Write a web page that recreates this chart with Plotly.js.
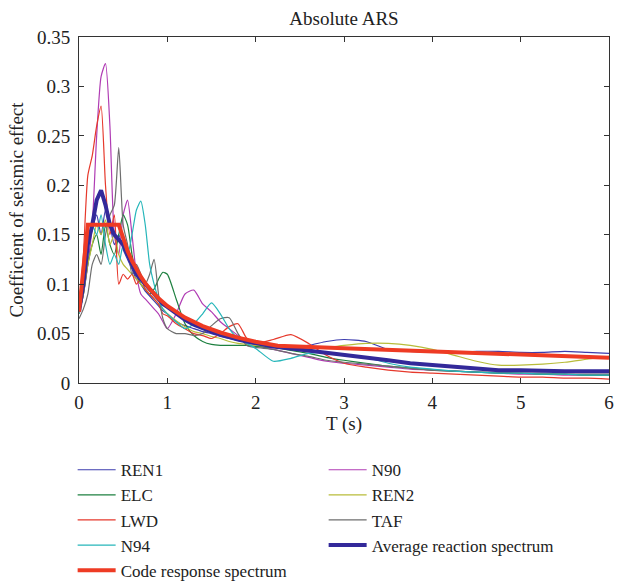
<!DOCTYPE html>
<html>
<head>
<meta charset="utf-8">
<script src="https://cdn.plot.ly/plotly-3.0.1.min.js"></script>
<style>html,body{margin:0;padding:0;background:#fff;}#chart{width:622px;height:586px;}</style>
</head>
<body>
<div id="chart"></div>
<script>
// Periods (s)
const periods = [0,0.05,0.1,0.15,0.2,0.25,0.3,0.35,0.4,0.45,0.5,0.55,0.6,0.65,0.7,0.75,0.8,0.85,0.9,0.95,1.0,
  1.1,1.2,1.3,1.4,1.5,1.6,1.7,1.8,1.9,2.0,2.2,2.4,2.6,2.8,3.0,3.25,3.5,3.75,4.0,4.25,4.5,4.75,5.0,5.25,5.5,5.75,6.0];

const REN1 = [0.072,0.10,0.14,0.155,0.17,0.15,0.175,0.16,0.14,0.15,0.135,0.125,0.115,0.105,0.10,0.093,0.088,0.083,0.078,0.073,0.07,
  0.062,0.058,0.055,0.052,0.05,0.047,0.045,0.043,0.041,0.04,0.038,0.037,0.038,0.042,0.044,0.042,0.034,0.032,0.031,0.031,0.032,0.032,0.031,0.031,0.032,0.031,0.030];
const N90 = [0.07,0.09,0.12,0.16,0.25,0.31,0.323,0.26,0.15,0.13,0.17,0.185,0.15,0.11,0.09,0.085,0.08,0.075,0.07,0.062,0.055,
  0.07,0.09,0.094,0.08,0.072,0.062,0.055,0.048,0.042,0.038,0.034,0.03,0.026,0.022,0.02,0.018,0.016,0.014,0.013,0.012,0.011,0.01,0.009,0.009,0.008,0.008,0.008];
const ELC = [0.07,0.09,0.12,0.14,0.15,0.13,0.16,0.14,0.13,0.15,0.17,0.16,0.13,0.11,0.10,0.095,0.09,0.095,0.105,0.112,0.11,
  0.085,0.06,0.048,0.042,0.039,0.038,0.038,0.038,0.038,0.037,0.036,0.033,0.03,0.026,0.023,0.02,0.017,0.015,0.013,0.012,0.011,0.01,0.01,0.009,0.009,0.008,0.008];
const REN2 = [0.07,0.09,0.12,0.14,0.16,0.15,0.165,0.14,0.15,0.13,0.12,0.115,0.11,0.105,0.10,0.095,0.09,0.085,0.08,0.075,0.07,
  0.063,0.057,0.052,0.05,0.047,0.045,0.042,0.04,0.039,0.038,0.037,0.036,0.035,0.036,0.038,0.040,0.040,0.038,0.034,0.028,0.022,0.018,0.018,0.019,0.021,0.024,0.027];
const LWD = [0.07,0.13,0.21,0.23,0.26,0.28,0.20,0.15,0.17,0.10,0.11,0.105,0.11,0.10,0.105,0.095,0.09,0.085,0.08,0.07,0.068,
  0.06,0.055,0.05,0.048,0.045,0.05,0.057,0.06,0.045,0.04,0.044,0.049,0.04,0.028,0.02,0.016,0.013,0.011,0.01,0.009,0.008,0.007,0.006,0.006,0.005,0.005,0.004];
const TAF = [0.065,0.075,0.09,0.12,0.13,0.12,0.15,0.17,0.18,0.238,0.16,0.14,0.11,0.12,0.11,0.10,0.11,0.125,0.09,0.065,0.055,
  0.05,0.05,0.048,0.05,0.058,0.065,0.066,0.05,0.038,0.036,0.034,0.03,0.027,0.023,0.021,0.019,0.017,0.015,0.013,0.012,0.011,0.011,0.01,0.01,0.009,0.009,0.009];
const N94 = [0.07,0.10,0.14,0.16,0.15,0.17,0.14,0.12,0.13,0.12,0.14,0.13,0.15,0.175,0.184,0.16,0.12,0.10,0.085,0.075,0.07,
  0.062,0.055,0.06,0.07,0.081,0.07,0.055,0.045,0.04,0.035,0.022,0.025,0.03,0.031,0.029,0.026,0.02,0.016,0.014,0.012,0.011,0.01,0.01,0.009,0.009,0.008,0.008];
const AVG = [0.072,0.10,0.14,0.16,0.185,0.195,0.18,0.16,0.15,0.145,0.14,0.13,0.12,0.11,0.105,0.10,0.095,0.09,0.085,0.08,0.077,
  0.07,0.064,0.059,0.055,0.052,0.049,0.046,0.044,0.042,0.04,0.037,0.035,0.033,0.031,0.029,0.026,0.023,0.02,0.018,0.016,0.014,0.013,0.013,0.012,0.012,0.012,0.012];

const codePeriods = [0,0.1,0.45,0.5,0.55,0.6,0.65,0.7,0.75,0.8,0.9,1.0,1.2,1.4,1.6,1.8,2.0,2.25,3,4,5,6];
const CODE = [0.072,0.16,0.16,0.1455,0.1336,0.1235,0.1149,0.1075,0.101,0.0953,0.0857,0.078,0.0662,0.0576,0.0511,0.0459,0.0418,0.0376,0.0352,0.032,0.0288,0.0256];

const names = ['REN1','N90','ELC','REN2','LWD','TAF','N94','Average reaction spectrum','Code response spectrum'];
const series = [REN1,N90,ELC,REN2,LWD,TAF,N94,AVG,CODE];
const colors = ['#3c3cae','#b03cb4','#1e8040','#b8bc3a','#e6392c','#6e6e6e','#26b6ba','#33299a','#ee3b24'];
const widths = [1.2,1.2,1.2,1.2,1.2,1.2,1.2,4,4];

const traces = series.map((ys, i) => ({
  type: 'scatter', mode: 'lines',
  x: i === 8 ? codePeriods : periods,
  y: ys, name: names[i],
  line: {color: colors[i], width: widths[i], shape: i >= 7 ? 'linear' : 'spline', smoothing: 0.6}
}));

const fam = '"Liberation Serif", "DejaVu Serif", serif';
const layout = {
  width: 622, height: 586,
  margin: {l: 79, r: 13, t: 37, b: 203, pad: 0, autoexpand: false},
  paper_bgcolor: '#fff', plot_bgcolor: '#fff',
  font: {family: fam, size: 19, color: '#222'},
  title: {text: 'Absolute ARS', x: 0.5, xref: 'paper', y: 0.968, yanchor: 'middle', font: {family: fam, size: 19, color: '#222'}},
  xaxis: {range: [0, 6], dtick: 1, ticks: 'inside', ticklen: 5, showline: true, mirror: 'ticks', linecolor: '#333', tickcolor: '#333',
          showgrid: false, zeroline: false, ticklabelstandoff: 2,
          title: {text: 'T (s)', standoff: 4, font: {size: 19}}, tickfont: {size: 19}},
  yaxis: {range: [0, 0.35], dtick: 0.05, ticks: 'inside', ticklen: 5, showline: true, mirror: 'ticks', linecolor: '#333', tickcolor: '#333',
          showgrid: false, zeroline: false, ticklabelstandoff: 4,
          title: {text: 'Coefficient of seismic effect', standoff: 8, font: {size: 19}}, tickfont: {size: 19}},
  showlegend: true,
  legend: {orientation: 'h', x: -0.012, xanchor: 'left', y: -0.2, yanchor: 'top', traceorder: 'normal',
           entrywidth: 198, entrywidthmode: 'pixels', itemwidth: 38, font: {size: 17}, bgcolor: 'rgba(0,0,0,0)'}
};
Plotly.newPlot('chart', traces, layout, {displayModeBar: false, staticPlot: true});
</script>
</body>
</html>
